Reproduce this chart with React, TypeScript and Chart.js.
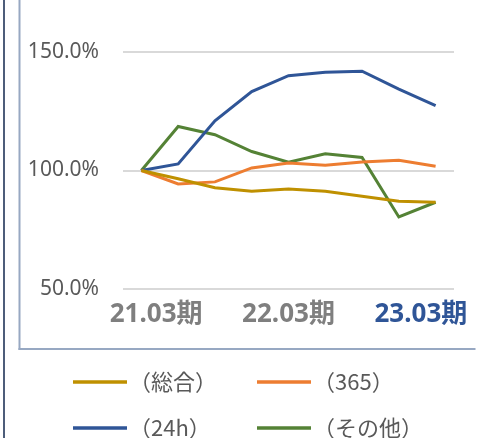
import React, { useEffect, useRef } from "react";
import { Chart, registerables } from "chart.js";

Chart.register(...registerables);

const pointIndex = [0, 1, 2, 3, 4, 5, 6, 7, 8];
const xTickLabels = ["21.03期", "22.03期", "23.03期"];
const seriesNames = ["（総合）", "（365）", "（24h）", "（その他）"];
const sogo = [100, 96.5, 92.7, 91.2, 92.2, 91.2, 89.1, 87.0, 86.6];
const s365 = [100, 94.3, 95.2, 101.1, 103.2, 102.2, 103.6, 104.3, 101.8];
const s24h = [100, 102.8, 121.0, 133.3, 140.0, 141.5, 141.9, 134.3, 127.4];
const other = [100, 118.6, 115.1, 108.0, 103.5, 107.1, 105.5, 80.4, 86.6];
const yTicks = [50, 100, 150];

const COLORS = ["#bf9000", "#ed7d31", "#2f5597", "#548235"];
const TICK_POS = [0.4, 4, 7.6];
const FONT = "'Noto Sans', 'Noto Sans CJK JP', sans-serif";
const CJK = "'Noto Sans CJK JP', sans-serif";

const framePlugin = {
  id: "frame",
  beforeDraw(chart: any) {
    const ctx = chart.ctx;
    ctx.save();
    ctx.fillStyle = "#ffffff";
    ctx.fillRect(0, 0, chart.width, chart.height);
    ctx.fillStyle = "#4d5d7a";
    ctx.fillRect(3, 0, 2, chart.height);
    ctx.fillStyle = "#97a8c2";
    ctx.fillRect(18.5, 0, 2, 350);
    ctx.fillRect(18.5, 348, 457, 2);
    ctx.restore();
  },
};

const legendPlugin = {
  id: "gridLegend",
  afterDraw(chart: any) {
    const ctx = chart.ctx;
    const cols = [73, 257];
    const rows = [382, 428];
    ctx.save();
    chart.data.datasets.forEach((ds: any, i: number) => {
      const x = cols[i % 2];
      const y = rows[Math.floor(i / 2)];
      ctx.strokeStyle = ds.borderColor;
      ctx.lineWidth = 3.5;
      ctx.beginPath();
      ctx.moveTo(x, y);
      ctx.lineTo(x + 54, y);
      ctx.stroke();
      ctx.fillStyle = "#595959";
      ctx.font = `22px ${CJK}`;
      ctx.textAlign = "left";
      ctx.textBaseline = "middle";
      ctx.fillText(ds.label, x + 56, y);
    });
    ctx.restore();
  },
};

export default function App() {
  const ref = useRef<HTMLCanvasElement>(null);
  useEffect(() => {
    const series = [sogo, s365, s24h, other];
    const chart = new Chart(ref.current as HTMLCanvasElement, {
      type: "line",
      data: {
        datasets: series.map((vals, i) => ({
          label: seriesNames[i],
          data: pointIndex.map((p, j) => ({ x: p, y: vals[j] })),
          borderColor: COLORS[i],
          backgroundColor: COLORS[i],
          borderWidth: 3,
          pointRadius: 0,
          tension: 0,
          fill: false,
        })),
      },
      options: {
        animation: false,
        responsive: false,
        maintainAspectRatio: false,
        layout: { padding: { top: 52, right: 39, left: 0, bottom: 0 } },
        plugins: { legend: { display: false }, tooltip: { enabled: false } },
        scales: {
          x: {
            type: "linear",
            min: -0.5,
            max: 8.5,
            afterBuildTicks: (scale: any) => {
              scale.ticks = TICK_POS.map((v) => ({ value: v }));
            },
            afterFit: (scale: any) => {
              scale.height = 149;
            },
            grid: { display: false, drawTicks: false },
            border: { display: false },
            ticks: {
              autoSkip: false,
              maxRotation: 0,
              padding: 10,
              font: { size: 26, weight: "bold", family: FONT },
              color: (c: any) => (c.index === 2 ? "#2f5597" : "#7f7f7f"),
              callback: (_v: any, i: number) => xTickLabels[i],
            },
          },
          y: {
            min: 50,
            max: 150,
            afterBuildTicks: (scale: any) => {
              scale.ticks = yTicks.map((v) => ({ value: v }));
            },
            afterFit: (scale: any) => {
              scale.width = 123;
            },
            grid: { color: "#d9d9d9", lineWidth: 2, drawTicks: false },
            border: { display: false },
            ticks: {
              padding: 24,
              font: { size: 21, family: FONT },
              color: "#595959",
              callback: (v: any) => Number(v).toFixed(1) + "%",
            },
          },
        },
      },
      plugins: [framePlugin, legendPlugin],
    });
    return () => chart.destroy();
  }, []);
  return (
    <div style={{ position: "fixed", left: 0, top: 0, width: 493, height: 438 }}>
      <canvas ref={ref} width={493} height={438} style={{ width: 493, height: 438, display: "block" }} />
    </div>
  );
}
